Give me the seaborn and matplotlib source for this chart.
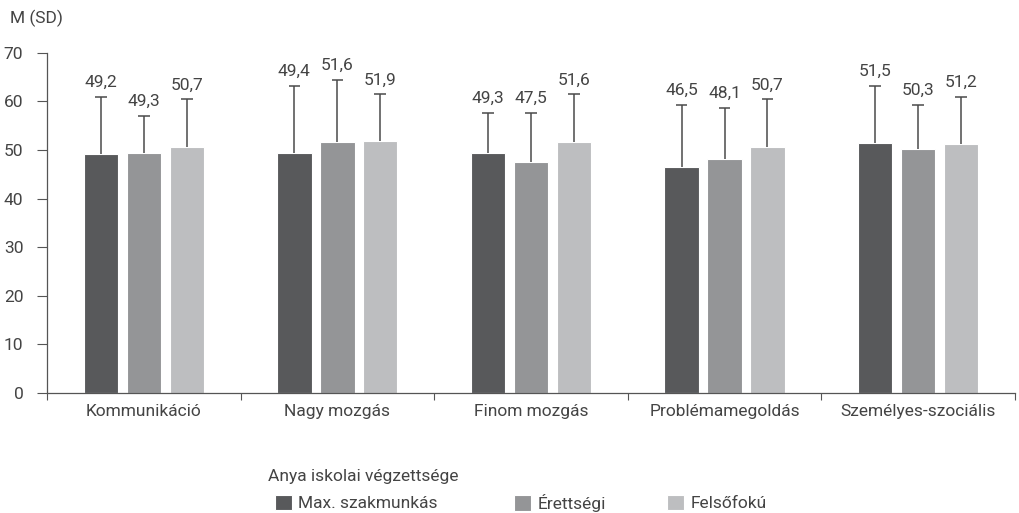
import matplotlib
matplotlib.use("Agg")
import matplotlib.pyplot as plt
import numpy as np
import pandas as pd
import seaborn as sns

categories = ['Kommunikáció', 'Nagy mozgás', 'Finom mozgás', 'Problémamegoldás', 'Személyes-szociális']
groups = ['Max. szakmunkás', 'Érettségi', 'Felsőfokú']

mean_max = [49.2, 49.4, 49.3, 46.5, 51.5]
mean_ere = [49.3, 51.6, 47.5, 48.1, 50.3]
mean_fel = [50.7, 51.9, 51.6, 50.7, 51.2]

sd_max = [11.8, 13.8, 8.3, 12.8, 11.7]
sd_ere = [7.8, 12.8, 10.1, 10.6, 9.0]
sd_fel = [9.7, 9.6, 9.9, 9.7, 9.8]

colors = ['#58595b', '#939598', '#bcbec0']

rows = []
for g, means, sds in zip(groups, [mean_max, mean_ere, mean_fel], [sd_max, sd_ere, sd_fel]):
    for c, m, s in zip(categories, means, sds):
        rows.append({'cat': c, 'group': g, 'mean': m, 'sd': s})
df = pd.DataFrame(rows)

sns.set_style('white')
plt.rcParams['font.family'] = ['Roboto', 'DejaVu Sans']
text_col = '#444444'
fs = 12.5

fig = plt.figure(figsize=(10.2, 5.13), dpi=100)
ax = fig.add_axes([0.046, 0.234, 0.949, 0.663])

sns.barplot(data=df, x='cat', y='mean', hue='group', order=categories, hue_order=groups,
            palette=colors, width=0.666, gap=0.2, errorbar=None, ax=ax,
            edgecolor='white', linewidth=0.8, legend=True)

# error bars (upper half only) and value labels
for g, container in zip(groups, ax.containers):
    sub = df[df['group'] == g].set_index('cat').loc[categories]
    for bar, m, s in zip(container.patches, sub['mean'], sub['sd']):
        xc = bar.get_x() + bar.get_width() / 2
        top = m + s
        ax.vlines(xc, m, top, color='#4a4a4a', lw=1.1, zorder=3)
        ax.hlines(top, xc - 0.03, xc + 0.03, color='#4a4a4a', lw=1.1, zorder=3)
        ax.text(xc, top + 1.4, f'{m:.1f}'.replace('.', ','), ha='center', va='bottom',
                fontsize=fs, color=text_col)

ax.set_ylim(0, 70)
ax.set_xlim(-0.5, 4.5)
ax.set_yticks(range(0, 71, 10))
ax.set_xlabel('')
ax.set_ylabel('')
ax.tick_params(axis='y', left=True, length=7, width=0.8, color='#555555',
               labelsize=fs, labelcolor=text_col, pad=10)
ax.tick_params(axis='x', which='major', length=0, labelsize=fs, labelcolor=text_col, pad=8)
ax.set_xticks(np.arange(-0.5, 5.0, 1.0), minor=True)
ax.tick_params(axis='x', which='minor', bottom=True, length=5, width=0.8, color='#555555')
for side in ['top', 'right']:
    ax.spines[side].set_visible(False)
for side in ['left', 'bottom']:
    ax.spines[side].set_color('#555555')
    ax.spines[side].set_linewidth(0.9)

fig.text(0.010, 0.965, 'M (SD)', fontsize=fs, color=text_col, va='center')

# legend: title plus one entry per group at its own position
handles, labels = ax.get_legend_handles_labels()
ax.get_legend().remove()
fig.text(268 / 1020, 1 - 476 / 513, 'Anya iskolai végzettsége', fontsize=fs,
         color=text_col, va='center', ha='left')
entry_x = [268, 507, 660]
for h, lab, x0 in zip(handles, labels, entry_x):
    fig.legend([h], [lab], loc='center left', bbox_to_anchor=(x0 / 1020, 1 - 503 / 513),
               frameon=False, fontsize=fs, handlelength=1.0, handleheight=1.0,
               handletextpad=0.35, borderaxespad=0, labelcolor=text_col)

fig.savefig('out.png', dpi=100)
